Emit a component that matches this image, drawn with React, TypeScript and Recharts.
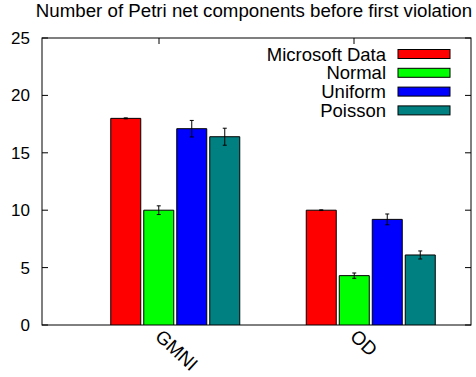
import React from 'react';
import { BarChart, Bar, XAxis, YAxis, ErrorBar, Customized } from 'recharts';

const categories = ['GMNI', 'OD'];
const seriesNames = ['Microsoft Data', 'Normal', 'Uniform', 'Poisson'];
const seriesColors = ['#ff0000', '#00ff00', '#0000ff', '#008080'];
const microsoftValues = [18.0, 10.0];
const microsoftErrors = [0.04, 0.03];
const normalValues = [10.0, 4.3];
const normalErrors = [0.38, 0.23];
const uniformValues = [17.1, 9.2];
const uniformErrors = [0.72, 0.47];
const poissonValues = [16.4, 6.1];
const poissonErrors = [0.74, 0.35];
const yTicks = [0, 5, 10, 15, 20, 25];
const title = 'Number of Petri net components before first violation';

const seriesValues = [microsoftValues, normalValues, uniformValues, poissonValues];
const seriesErrors = [microsoftErrors, normalErrors, uniformErrors, poissonErrors];

const data = categories.map((cat, i) => {
  const row: Record<string, any> = { cat };
  seriesValues.forEach((vals, s) => {
    row[`s${s}`] = vals[i];
    row[`e${s}`] = seriesErrors[s][i];
  });
  return row;
});

const W = 476;
const H = 377;
const PLOT_LEFT = 42;
const PLOT_RIGHT = 471;
const PLOT_TOP = 38;
const PLOT_BOTTOM = 325;
const FONT = '"Liberation Sans", Arial, Helvetica, sans-serif';

const YTick = (props: any) => {
  const { y, payload } = props;
  return (
    <g>
      <line x1={PLOT_LEFT} y1={y} x2={PLOT_LEFT + 6} y2={y} stroke="#000" strokeWidth={1} />
      <line x1={PLOT_RIGHT} y1={y} x2={PLOT_RIGHT - 6} y2={y} stroke="#000" strokeWidth={1} />
      <text x={30} y={y + 6} textAnchor="end" fontFamily={FONT} fontSize={17} fill="#000">
        {payload.value}
      </text>
    </g>
  );
};

const XTick = (props: any) => {
  const { x, payload } = props;
  const tx = x - 5;
  const ty = PLOT_BOTTOM + 13;
  return (
    <g>
      <line x1={x} y1={PLOT_TOP} x2={x} y2={PLOT_TOP + 6} stroke="#000" strokeWidth={1} />
      <text
        x={tx}
        y={ty}
        transform={`rotate(43, ${tx}, ${ty})`}
        textAnchor="start"
        fontFamily={FONT}
        fontSize={19}
        fill="#000"
      >
        {payload.value}
      </text>
    </g>
  );
};

const Frame = () => (
  <rect
    x={PLOT_LEFT}
    y={PLOT_TOP}
    width={PLOT_RIGHT - PLOT_LEFT}
    height={PLOT_BOTTOM - PLOT_TOP}
    fill="none"
    stroke="#000"
    strokeWidth={1}
  />
);

const Title = () => (
  <text x={254} y={17} textAnchor="middle" fontFamily={FONT} fontSize={18.7} fill="#000">
    {title}
  </text>
);

const LegendBox = () => (
  <g>
    {seriesNames.map((name, i) => {
      const cy = 54 + i * 18.8;
      return (
        <g key={name}>
          <text x={386} y={cy + 6.5} textAnchor="end" fontFamily={FONT} fontSize={18.5} fill="#000">
            {name}
          </text>
          <rect x={398} y={cy - 4.5} width={52} height={9} fill={seriesColors[i]} stroke="#000" strokeWidth={1} />
        </g>
      );
    })}
  </g>
);

export default function App() {
  return (
    <div style={{ position: 'absolute', left: 0, top: 0, width: W, height: H, background: '#fff' }}>
      <BarChart
        width={W}
        height={H}
        data={data}
        margin={{ top: PLOT_TOP, right: W - PLOT_RIGHT, bottom: 0, left: 0 }}
        barSize={30}
        barGap={3}
      >
        <XAxis
          xAxisId="lab"
          dataKey="cat"
          height={H - PLOT_BOTTOM}
          padding={{ left: 19.5, right: 19.5 }}
          axisLine={false}
          tickLine={false}
          tick={<XTick />}
          interval={0}
        />
        <XAxis xAxisId="bars" dataKey="cat" hide padding={{ left: 35.75, right: 2.25 }} />
        <YAxis
          width={PLOT_LEFT}
          domain={[0, 25]}
          ticks={yTicks}
          allowDataOverflow
          axisLine={false}
          tickLine={false}
          tick={<YTick />}
          interval={0}
        />
        {seriesNames.map((name, s) => (
          <Bar
            key={name}
            xAxisId="bars"
            dataKey={`s${s}`}
            name={name}
            fill={seriesColors[s]}
            stroke="#000"
            strokeWidth={1}
            isAnimationActive={false}
          >
            <ErrorBar dataKey={`e${s}`} width={2} stroke="#000" strokeWidth={1} direction="y" />
          </Bar>
        ))}
        <Customized component={<Frame />} />
        <Customized component={<Title />} />
        <Customized component={<LegendBox />} />
      </BarChart>
    </div>
  );
}
